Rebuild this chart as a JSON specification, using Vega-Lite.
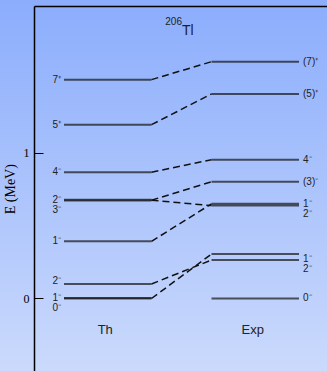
{
  "$schema": "https://vega.github.io/schema/vega-lite/v6.json",
  "width": 327,
  "height": 371,
  "padding": 0,
  "autosize": "none",
  "config": {
    "view": {
      "stroke": null,
      "fill": {
        "gradient": "linear",
        "x1": 0, "y1": 0, "x2": 0, "y2": 1,
        "stops": [
          {"offset": 0, "color": "#8badfc"},
          {"offset": 1, "color": "#cbdafc"}
        ]
      }
    },
    "text": {"font": "Liberation Sans", "color": "#222222"}
  },
  "datasets": {
    "levels": [
      {"side": "Th", "E": 1.501},
      {"side": "Th", "E": 1.192},
      {"side": "Th", "E": 0.866},
      {"side": "Th", "E": 0.677},
      {"side": "Th", "E": 0.672},
      {"side": "Th", "E": 0.392},
      {"side": "Th", "E": 0.0995},
      {"side": "Th", "E": 0.003},
      {"side": "Th", "E": 0.0},
      {"side": "Exp", "E": 1.624},
      {"side": "Exp", "E": 1.403},
      {"side": "Exp", "E": 0.952},
      {"side": "Exp", "E": 0.801},
      {"side": "Exp", "E": 0.649},
      {"side": "Exp", "E": 0.637},
      {"side": "Exp", "E": 0.305},
      {"side": "Exp", "E": 0.264},
      {"side": "Exp", "E": 0.0}
    ],
    "links": [
      {"from": "Th", "to": "Exp", "E1": 1.501, "E2": 1.624},
      {"from": "Th", "to": "Exp", "E1": 1.192, "E2": 1.403},
      {"from": "Th", "to": "Exp", "E1": 0.866, "E2": 0.952},
      {"from": "Th", "to": "Exp", "E1": 0.674, "E2": 0.801},
      {"from": "Th", "to": "Exp", "E1": 0.674, "E2": 0.637},
      {"from": "Th", "to": "Exp", "E1": 0.392, "E2": 0.649},
      {"from": "Th", "to": "Exp", "E1": 0.0995, "E2": 0.264},
      {"from": "Th", "to": "Exp", "E1": 0.0, "E2": 0.305}
    ],
    "thLabels": [
      {"side": "Th", "E": 1.501, "label": "7⁺"},
      {"side": "Th", "E": 1.192, "label": "5⁺"},
      {"side": "Th", "E": 0.866, "label": "4⁻"},
      {"side": "Th", "E": 0.674, "label": "2⁻\n3⁻"},
      {"side": "Th", "E": 0.392, "label": "1⁻"},
      {"side": "Th", "E": 0.123, "label": "2⁻"},
      {"side": "Th", "E": 0.0, "label": "1⁻\n0⁻"}
    ],
    "expLabels": [
      {"side": "Exp", "E": 1.624, "label": "(7)⁺"},
      {"side": "Exp", "E": 1.403, "label": "(5)⁺"},
      {"side": "Exp", "E": 0.952, "label": "4⁻"},
      {"side": "Exp", "E": 0.801, "label": "(3)⁻"},
      {"side": "Exp", "E": 0.645, "label": "1⁻\n2⁻"},
      {"side": "Exp", "E": 0.268, "label": "1⁻\n2⁻"},
      {"side": "Exp", "E": 0.0, "label": "0⁻"}
    ],
    "sides": [
      {"side": "Th"},
      {"side": "Exp"}
    ],
    "nucleus": [
      {"side": "Th", "mass": "206", "element": "Tl"}
    ]
  },
  "encoding": {
    "y": {
      "type": "quantitative",
      "scale": {"domain": [-0.5, 2.006], "range": [371.4, 6], "nice": false, "zero": false}
    }
  },
  "layer": [
    {
      "data": {"name": "levels"},
      "mark": {"type": "tick", "size": 87.5, "thickness": 2, "color": "#151515"},
      "encoding": {
        "x": {
          "field": "side", "type": "nominal",
          "scale": {"domain": ["Th", "Exp"], "range": [34, 329], "paddingInner": 0.4068, "paddingOuter": 0.2034, "align": 0.5},
          "axis": {"orient": "top", "offset": -6, "labels": false, "ticks": false, "title": null, "domain": true, "domainColor": "#000000", "domainWidth": 1.5}
        },
        "y": {
          "field": "E", "type": "quantitative",
          "axis": {
            "orient": "left", "offset": -34, "values": [0, 1], "format": "d", "tickSize": -9, "tickColor": "#000000", "tickWidth": 1,
            "domainColor": "#000000", "domainWidth": 1.5, "grid": false,
            "labelFont": "Liberation Serif", "labelFontSize": 12, "labelColor": "#000000", "labelPadding": 14,
            "title": "E (MeV)", "titleFont": "Liberation Serif", "titleFontSize": 14, "titleFontWeight": "normal", "titleColor": "#000000", "titlePadding": 6
          }
        }
      }
    },
    {
      "data": {"name": "links"},
      "mark": {"type": "rule", "strokeDash": [7, 4], "strokeWidth": 1.5, "color": "#111111"},
      "encoding": {
        "x": {"field": "from", "type": "nominal", "bandPosition": 1},
        "x2": {"field": "to", "bandPosition": 0},
        "y": {"field": "E1", "type": "quantitative"},
        "y2": {"field": "E2"}
      }
    },
    {
      "data": {"name": "thLabels"},
      "mark": {"type": "text", "align": "right", "baseline": "middle", "dx": -3, "fontSize": 10, "lineHeight": 9.5, "lineBreak": "\n"},
      "encoding": {
        "x": {"field": "side", "type": "nominal", "bandPosition": 0},
        "y": {"field": "E", "type": "quantitative"},
        "text": {"field": "label"}
      }
    },
    {
      "data": {"name": "expLabels"},
      "mark": {"type": "text", "align": "left", "baseline": "middle", "dx": 4, "fontSize": 10, "lineHeight": 9.5, "lineBreak": "\n"},
      "encoding": {
        "x": {"field": "side", "type": "nominal", "bandPosition": 1},
        "y": {"field": "E", "type": "quantitative"},
        "text": {"field": "label"}
      }
    },
    {
      "data": {"name": "sides"},
      "mark": {"type": "text", "align": "center", "baseline": "alphabetic", "dx": -2.5, "fontSize": 13},
      "encoding": {
        "x": {"field": "side", "type": "nominal"},
        "y": {"datum": -0.2435, "type": "quantitative"},
        "text": {"field": "side"}
      }
    },
    {
      "data": {"name": "nucleus"},
      "mark": {"type": "text", "align": "left", "baseline": "alphabetic", "dx": 30.5, "fontSize": 14},
      "encoding": {
        "x": {"field": "side", "type": "nominal", "bandPosition": 1},
        "y": {"datum": 1.807, "type": "quantitative"},
        "text": {"field": "element"}
      }
    },
    {
      "data": {"name": "nucleus"},
      "mark": {"type": "text", "align": "right", "baseline": "alphabetic", "dx": 30.5, "dy": -10, "fontSize": 10},
      "encoding": {
        "x": {"field": "side", "type": "nominal", "bandPosition": 1},
        "y": {"datum": 1.807, "type": "quantitative"},
        "text": {"field": "mass"}
      }
    }
  ]
}
